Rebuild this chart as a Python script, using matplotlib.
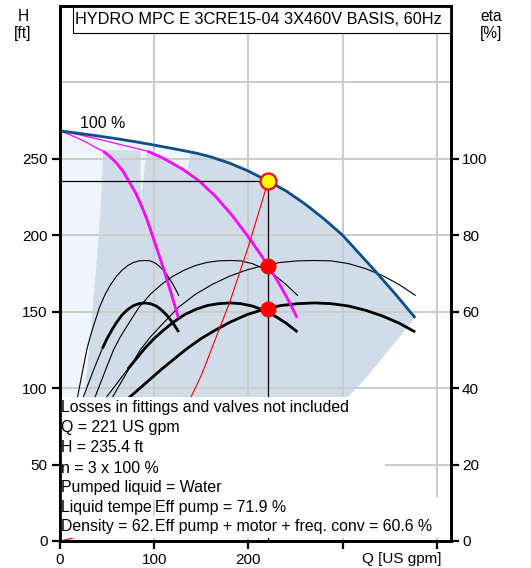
import matplotlib
matplotlib.use('Agg')
import matplotlib.pyplot as plt
from matplotlib.patches import Polygon, Rectangle
import numpy as np

plt.rcParams['font.family'] = ['Liberation Sans', 'DejaVu Sans']

# ---------------- data ----------------
title = "HYDRO MPC E 3CRE15-04 3X460V BASIS, 60Hz"
x_ticks = [0, 100, 200, 300, 400]
x_tick_labels = ['0', '100', '200', '', '']
h_ticks = [0, 50, 100, 150, 200, 250]
eta_ticks = [0, 20, 40, 60, 80, 100]
h_grid = [50, 100, 150, 200, 250, 300]
q_grid = [100, 200, 300, 400]

# 3 pumps at 100 % speed
q_max = [0, 20, 40, 60, 80, 100, 120, 145, 160, 180, 200, 221, 240, 260, 280, 300, 317, 334, 356, 377]
h_max = [268.3, 266.7, 265, 263.2, 261.2, 259, 256.7, 253.7, 251.3, 247.2, 242, 235.4, 229, 220.5,
         210.8, 200, 188.5, 177, 161.5, 146]

# 1 pump at 100 %
q_one = [0, 10, 20, 26.7, 33.3, 40, 46, 53, 60, 66.7, 73, 80, 86, 92, 98, 104, 110, 118, 125.7]
h_one = [268.3, 265.9, 263.2, 261.2, 259, 256.7, 255, 251.5, 247.2, 242, 235.5, 228, 220, 210.8,
         200, 189, 178, 162, 146]
# 2 pumps at 100 %
q_two = [0, 20, 40, 60, 80, 93, 110, 130, 148, 165, 182, 198, 210, 221, 232, 242, 251.7]
h_two = [268.3, 265.8, 263, 260, 257, 255, 250.3, 243.3, 235.4, 225.5, 213.5, 200.5, 190, 180,
         169, 158, 146]

# efficiency of pump (thin curves), same values for 1/2/3 pumps
eta_pump = [35, 37.8, 42, 45.8, 50, 53.4, 56.6, 61.2, 64.6, 67.2, 69.3, 70.9, 72.1, 72.9, 73.3,
            73.4, 73.3, 72.6, 71.3, 69.5, 67.1, 64.3]
q_pump_1 = [16.5, 18.7, 22, 25, 28.4, 32, 36, 42, 48, 54, 60, 66, 72, 78, 84, 90, 96, 102, 108,
            114, 120, 126]
q_pump_2 = [33, 37.4, 44, 50, 56.8, 64, 72, 84, 96, 108, 120, 132, 144, 156, 168, 180, 192, 204,
            216, 228, 240, 252]
q_pump_3 = [49.5, 56.1, 66, 75, 85.2, 96, 108, 126, 144, 162, 180, 198, 216, 234, 252, 270, 288,
            306, 324, 342, 360, 377]

# efficiency pump + motor + frequency converter (thick curves)
eta_total = [35, 37.8, 39.8, 42.4, 45.0, 47.4, 50.4, 53.0, 55.2, 57.2, 59.2, 60.6, 61.6, 62.1,
             62.3, 62.1, 61.5, 60.4, 58.9, 57.0, 54.7]
q_total_1 = [20.8, 24.9, 28, 32, 36, 40, 45, 50, 55, 60, 66, 72, 78, 84, 90, 96, 102, 108, 114,
             120, 126]
q_total_2 = [41.6, 49.8, 56, 64, 72, 80, 90, 100, 110, 120, 132, 144, 156, 168, 180, 192, 204, 216,
             228, 240, 252]
q_total_3 = [62.4, 74.7, 84, 96, 108, 120, 135, 150, 165, 180, 198, 216, 234, 252, 270, 288, 306,
             324, 342, 360, 377]

# system curve
q_sys = [0, 30, 60, 90, 120, 150, 180, 200, 221]
h_sys = [0, 4.3, 17.3, 39, 69.4, 108.4, 156, 192.8, 235.4]

# duty point
q_duty = 221
h_duty = 235.4
eta_pump_duty = 71.9
eta_total_duty = 60.6

# operating-area boundaries
q_minflow1 = [46, 43.5, 39.6, 33, 26, 15, 8]
h_minflow1 = [255.5, 222, 187, 140, 94.4, 50, 20]
q_minflow3 = [135, 138.6]
h_minflow3 = [241.5, 254.5]
q_maxflow = [377, 322, 305, 230]
h_maxflow = [146, 104.7, 94, 45]
q_gap2 = [85.5, 92, 85.6]
h_gap2 = [255.6, 255.3, 222]
q_dark_top = [46, 86, 92]
h_dark_top = [255.5, 255.5, 255.3]

info_lines = ["Losses in fittings and valves not included",
              "Q = 221 US gpm",
              "H = 235.4 ft",
              "n = 3 x 100 %",
              "Pumped liquid = Water",
              "Liquid tempe",
              "Density = 62."]
info_right = ["Eff pump = 71.9 %", "Eff pump + motor + freq. conv = 60.6 %"]

# ---------------- figure ----------------
W, H = 531, 568
fig = plt.figure(figsize=(W / 100, H / 100), dpi=100)
ax = fig.add_axes([60 / W, 1 - 541 / H, 391 / W, 535 / H])
ax.set_xlim(0, 415)
ax.set_ylim(0, 350)
ax2 = ax.twinx()
ax2.set_ylim(0, 140)

LIGHT = '#eef5fc'
DARK = '#d0dce8'
GRID = '#cccccc'
BLUE = '#0b4f86'
MAG = '#ff00ff'

# light area under max curve
light_pts = ([(0, 20)] + list(zip(q_max, h_max)) + list(zip(q_maxflow[1:], h_maxflow[1:])))
ax.add_patch(Polygon(light_pts, closed=True, fc=LIGHT, ec='none', zorder=1))

# dark operating area
two_thick = [(q, h) for q, h in zip(q_two, h_two) if 93 <= q <= 130]
dark_pts = (list(zip(q_dark_top, h_dark_top)) + two_thick
            + list(zip(q_minflow3, h_minflow3))
            + [(q, h) for q, h in zip(q_max, h_max) if q > 138.6]
            + list(zip(q_maxflow[1:], h_maxflow[1:]))
            + list(zip(q_minflow1[::-1], h_minflow1[::-1])))
ax.add_patch(Polygon(dark_pts, closed=True, fc=DARK, ec='none', zorder=1.1))
ax.add_patch(Polygon(list(zip(q_gap2, h_gap2)), closed=True, fc=LIGHT, ec='none', zorder=1.2))

# grid
for hg in h_grid:
    ax.axhline(hg, color=GRID, lw=1.5, zorder=1.5)
for qg in q_grid:
    ax.axvline(qg, color=GRID, lw=1.5, zorder=1.5)

# efficiency curves (on eta axis)
t2 = ax2.transData
for qa in (q_pump_1, q_pump_2, q_pump_3):
    ax.plot(qa, eta_pump, color='black', lw=0.8, transform=t2, zorder=3)
for qa, qthick in ((q_total_1, 45), (q_total_2, 72), (q_total_3, 0)):
    qa_ = np.array(qa)
    e_ = np.array(eta_total)
    ax.plot(qa_[qa_ <= qthick + 1e-9], e_[qa_ <= qthick + 1e-9], color='black', lw=0.8,
            transform=t2, zorder=3)
    ax.plot(qa_[qa_ >= qthick], e_[qa_ >= qthick], color='black', lw=2.0,
            transform=t2, zorder=3, solid_capstyle='butt')

# pump curves
for qa, ha, qt in ((q_one, h_one, 46), (q_two, h_two, 93)):
    qa_ = np.array(qa)
    ha_ = np.array(ha)
    ax.plot(qa_[qa_ <= qt], ha_[qa_ <= qt], color=MAG, lw=0.9, zorder=3.5)
    ax.plot(qa_[qa_ >= qt], ha_[qa_ >= qt], color=MAG, lw=2.0, zorder=3.5, solid_capstyle='butt')
ax.plot(q_max, h_max, color=BLUE, lw=2.0, zorder=3.6, solid_capstyle='butt')

# system curve and duty lines
ax.plot(q_sys, h_sys, color='red', lw=0.8, zorder=3.7)
ax.plot([0, q_duty], [h_duty, h_duty], color='black', lw=0.9, zorder=3.8)
ax.plot([q_duty, q_duty], [0, h_duty], color='black', lw=0.9, zorder=3.8)

# info block (white)
ax.add_patch(Rectangle((0, 1.8), 345, 94.2 - 1.8, fc='white', ec='none', zorder=5))
ax.add_patch(Rectangle((345, 1.8), 66, 28.8 - 1.8, fc='white', ec='none', zorder=5))
ax.plot([100, 100], [17.0, 27.0], color=GRID, lw=1.2, zorder=5.1)

ys = [87.2, 74.1, 60.9, 47.6, 34.7, 21.8, 9.4]
FS = 11.4
for s, yv in zip(info_lines, ys):
    ax.text(0.6, yv, s, fontsize=FS, ha='left', va='center', zorder=6)
ax.text(101.2, ys[5], info_right[0], fontsize=FS, ha='left', va='center', zorder=6,
        bbox=dict(fc='white', ec='none', pad=0.6))
ax.text(100.5, ys[6], info_right[1], fontsize=FS, ha='left', va='center', zorder=6,
        bbox=dict(fc='white', ec='none', pad=0.6))

# markers
ax.plot([q_duty], [h_duty], marker='o', ms=11.5, mfc='#ffff00', mec='red', mew=1.6, zorder=7)
ax.plot([q_duty], [eta_pump_duty], marker='o', ms=10.5, mfc='red', mec='red',
        transform=t2, zorder=7)
ax.plot([q_duty], [eta_total_duty], marker='o', ms=10.5, mfc='red', mec='red',
        transform=t2, zorder=7)

ax.text(21, 273, "100 %", fontsize=11.4, ha='left', va='center', zorder=6)

# title box
ax.add_patch(Rectangle((13.8, 332.5), 415 - 13.8, 350 - 332.5, fc='white', ec='black', lw=0.8,
                       zorder=8, clip_on=False))
ax.text(211, 341.4, title, fontsize=11.7, ha='center', va='center', zorder=9)

# axes styling
for a in (ax, ax2):
    for sp in a.spines.values():
        sp.set_linewidth(2.0)
ax.set_xticks(x_ticks)
ax.set_xticklabels(x_tick_labels)
ax.set_yticks(h_ticks)
ax2.set_yticks(eta_ticks)
ax.tick_params(axis='both', direction='out', length=6, width=1.6, labelsize=11, pad=3)
ax2.tick_params(axis='y', direction='out', length=6, width=1.6, labelsize=11, pad=2)

fig.text(23 / W, 1 - 25 / H, "H\n[ft]", ha='center', va='center', fontsize=11.2, linespacing=1.2)
fig.text(491 / W, 1 - 25 / H, "eta\n[%]", ha='center', va='center', fontsize=11.2, linespacing=1.2)
fig.text(442 / W, 1 - 559 / H, "Q [US gpm]", ha='right', va='center', fontsize=11)

fig.savefig('out.png', dpi=100)
